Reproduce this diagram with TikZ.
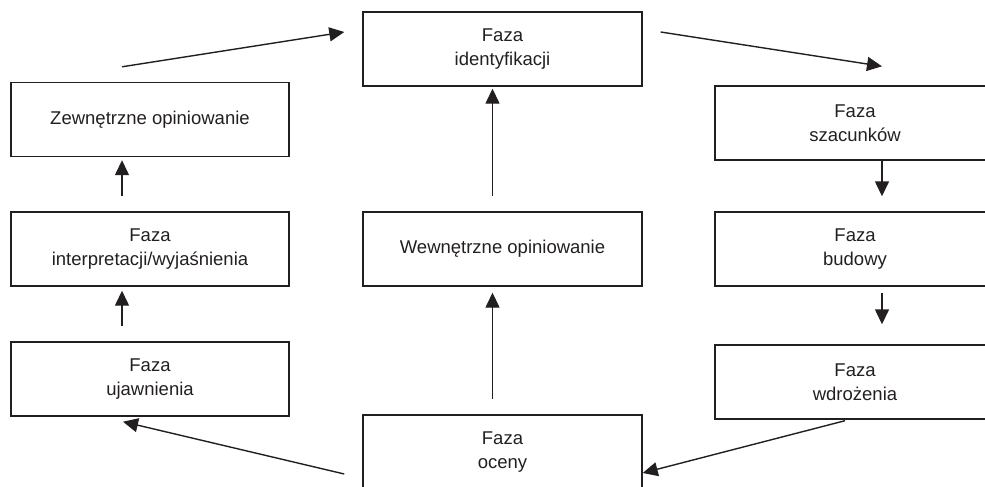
\documentclass[tikz,border=0pt]{standalone}
\usepackage{fontspec}
\setmainfont{Liberation Sans}
\usetikzlibrary{arrows.meta,calc}
\definecolor{ink}{HTML}{231F20}
\begin{document}
\begin{tikzpicture}[x=1pt,y=-1pt,
  phase/.style={draw=ink, line width=1.4pt, minimum width=279pt, minimum height=74pt,
    inner sep=0pt, align=center, text=ink, font=\fontsize{18.5}{23.5}\selectfont},
  flow/.style={draw=ink, line width=1.4pt, -{Triangle[length=15pt,width=14pt]}}]
\useasboundingbox (0,0) rectangle (985,487);
\clip (0,0) rectangle (985,487);

% phase boxes
\node[phase] (ident) at (502.5,49) {Faza\\identyfikacji};
\node[phase, minimum width=278pt] (zew) at (150,119.5) {Zewnętrzne opiniowanie};
\node[phase, minimum width=278pt] (interp) at (150,249) {Faza\\interpretacji/wyjaśnienia};
\node[phase, minimum width=278pt] (ujaw) at (150,379) {Faza\\ujawnienia};
\node[phase] (wew) at (502.5,249) {Wewnętrzne opiniowanie};
\node[phase] (ocen) at (502.5,452) {Faza\\oceny};
\node[phase, minimum width=280pt] (szac) at (855,123) {Faza\\szacunków};
\node[phase, minimum width=280pt] (bud) at (855,249) {Faza\\budowy};
\node[phase, minimum width=280pt] (wdr) at (855,382) {Faza\\wdrożenia};

% left column, upwards
\draw[flow] ($(ujaw.north)+(-28,-15)$) -- ($(interp.south)+(-28,4)$);
\draw[flow] ($(interp.north)+(-28,-15)$) -- ($(zew.south)+(-28,3)$);
% middle column, upwards
\draw[flow] ($(ocen.north)+(-10,-15)$) -- ($(wew.south)+(-10,6)$);
\draw[flow] ($(wew.north)+(-10,-15)$) -- ($(ident.south)+(-10,2)$);
% right column, downwards
\draw[flow] ($(szac.south)+(27,0)$) -- ($(bud.north)+(27,-15)$);
\draw[flow] ($(bud.south)+(27,6)$) -- ($(wdr.north)+(27,-20)$);
% diagonal links
\draw[flow] ($(zew.north)+(-28,-15)$) -- ($(ident.west)+(-18,-17)$);
\draw[flow] ($(ident.east)+(18,-17)$) -- ($(szac.north)+(27,-19)$);
\draw[flow] ($(wdr.south)+(-10,1)$) -- ($(ocen.east)+(0,21)$);
\draw[flow] ($(ocen.west)+(-18,22)$) -- ($(ujaw.south)+(-27,5)$);
\end{tikzpicture}
\end{document}
